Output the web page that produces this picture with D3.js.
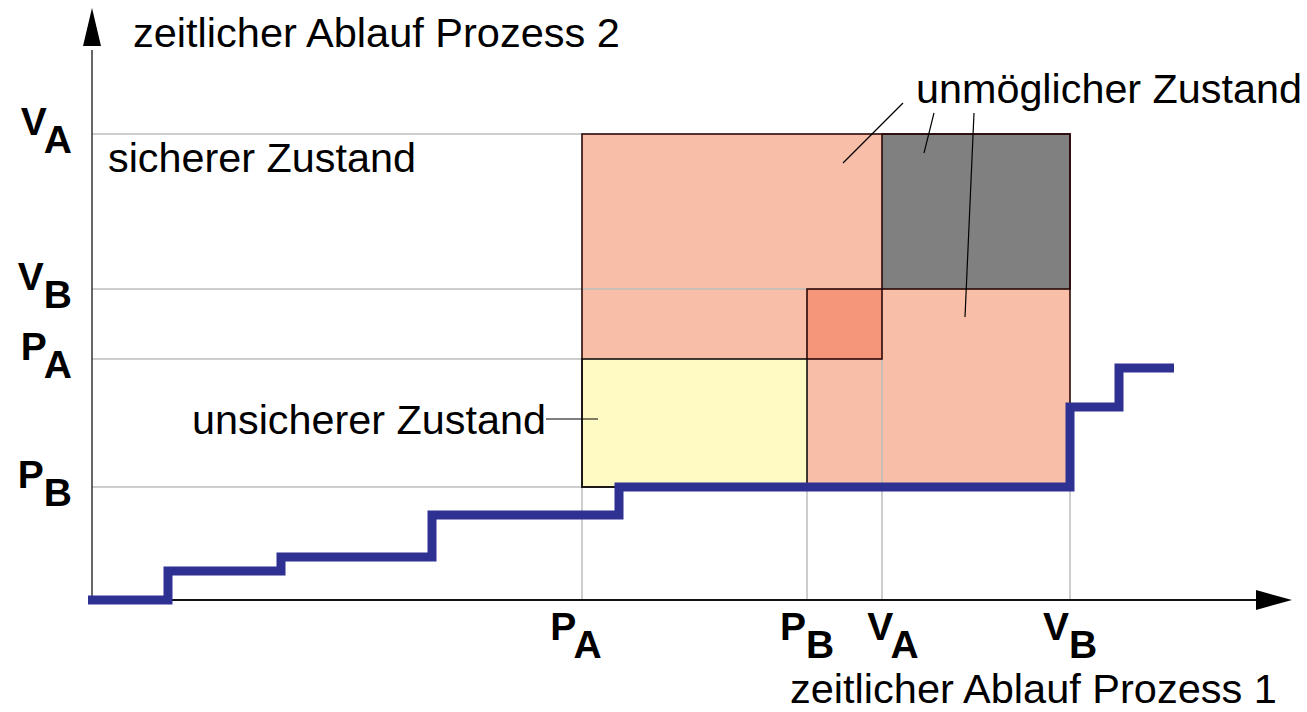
<!DOCTYPE html>
<html><head><meta charset="utf-8">
<script src="https://cdn.jsdelivr.net/npm/d3@7"></script>
<style>
body{margin:0;background:#fff}
svg{display:block}
text{font-family:"Liberation Sans",Arial,Helvetica,sans-serif;fill:#000}
</style></head>
<body><svg id="c" width="1307" height="712"></svg>
<script>
// ---------- data ----------
// Process 1 (horizontal) tick positions, in time units
const xTickMain = ["P", "P", "V", "V"];
const xTickSub  = ["A", "B", "A", "B"];
const xTickValues = [49.0, 71.5, 79.0, 97.8];   // P_A, P_B, V_A, V_B
// Process 2 (vertical) tick positions
const yTickMain = ["V", "V", "P", "P"];
const yTickSub  = ["A", "B", "A", "B"];
const yTickValues = [46.6, 31.1, 24.1, 11.3];   // V_A, V_B, P_A, P_B

// joint progress path (step function)
const pathX = [-0.4, 7.6, 18.9, 34.0, 52.7, 97.8, 102.7, 108.2];
const pathY = [0, 2.9, 4.3, 8.5, 11.3, 19.3, 23.2, 23.2];

// state regions, bounds given as tick indices (x: PA,PB,VA,VB ; y: VA,VB,PA,PB)
const regionNames = ["unmöglich", "unmöglich (grau)", "Überlappung", "unsicher"];
const regionX0 = [0, 2, 1, 0];
const regionX1 = [3, 3, 2, 1];
const regionY0 = [3, 1, 2, 3];
const regionY1 = [0, 0, 1, 2];

const axisLabels = ["zeitlicher Ablauf Prozess 1", "zeitlicher Ablauf Prozess 2"];
const stateLabels = ["sicherer Zustand", "unmöglicher Zustand", "unsicherer Zustand"];

// ---------- drawing ----------
const svg = d3.select("#c");
const x = d3.scaleLinear().domain([0, 120]).range([92, 1292]);
const y = d3.scaleLinear().domain([0, 59]).range([600, 10]);

const fills = ["#f9bea8", "#808080", "#f5967a", "#fff9c3"];
const strokes = ["#2a0808", "#2a0808", "#2a0808", "#111"];

const rx0 = i => x(xTickValues[regionX0[i]]), rx1 = i => x(xTickValues[regionX1[i]]);
const ry0 = i => y(yTickValues[regionY0[i]]), ry1 = i => y(yTickValues[regionY1[i]]);

// region fills
svg.append("g").selectAll("rect").data(regionNames).join("rect")
  .attr("x", (d, i) => rx0(i)).attr("y", (d, i) => ry1(i))
  .attr("width", (d, i) => rx1(i) - rx0(i)).attr("height", (d, i) => ry0(i) - ry1(i))
  .attr("fill", (d, i) => fills[i]);

// grid lines
const grid = svg.append("g").attr("stroke", "#bdbdbd").attr("stroke-width", 1.5);
const hEnd = [0, 1, 0, 0];
grid.selectAll("line.h").data(yTickValues).join("line").attr("class", "h")
  .attr("x1", x(0)).attr("x2", (d, i) => x(xTickValues[hEnd[i]]))
  .attr("y1", d => y(d)).attr("y2", d => y(d));
const vEnd = [3, 3, 2, 3];
grid.selectAll("line.v").data(xTickValues).join("line").attr("class", "v")
  .attr("x1", d => x(d)).attr("x2", d => x(d))
  .attr("y1", y(0)).attr("y2", (d, i) => y(yTickValues[vEnd[i]]));

// region outlines
svg.append("g").selectAll("rect").data(regionNames).join("rect")
  .attr("x", (d, i) => rx0(i)).attr("y", (d, i) => ry1(i))
  .attr("width", (d, i) => rx1(i) - rx0(i)).attr("height", (d, i) => ry0(i) - ry1(i))
  .attr("fill", "none").attr("stroke", (d, i) => strokes[i]).attr("stroke-width", 1.6);

// axes
const ax = svg.append("g");
ax.append("line").attr("x1", x(0)).attr("x2", x(0)).attr("y1", y(0)).attr("y2", y(55))
  .attr("stroke", "#333").attr("stroke-width", 1.5);
ax.append("path").attr("d", `M${x(0)},${y(59.2)} L${x(0) - 9},${y(55.4)} L${x(0) + 9},${y(55.4)} Z`).attr("fill", "#000");
ax.append("line").attr("x1", x(0)).attr("x2", x(116.5)).attr("y1", y(0)).attr("y2", y(0))
  .attr("stroke", "#111").attr("stroke-width", 2);
ax.append("path").attr("d", `M${x(120)},${y(0)} L${x(116.4)},${y(0) - 10} L${x(116.4)},${y(0) + 10} Z`).attr("fill", "#000");

// progress path
const line = d3.line().x(d => x(d[0])).y(d => y(d[1])).curve(d3.curveStepAfter);
svg.append("path").datum(pathX.map((v, i) => [v, pathY[i]]))
  .attr("d", line).attr("fill", "none").attr("stroke", "#2f3192")
  .attr("stroke-width", 9).attr("stroke-linejoin", "miter").attr("stroke-linecap", "butt");

// tick labels (small horizontal nudges keep P_B and V_A apart, as in the original)
const xNudge = [-6, 0, 11, 0];
const xl = svg.append("g").selectAll("text").data(xTickValues).join("text")
  .attr("x", (d, i) => x(d) + xNudge[i]).attr("y", 640).attr("text-anchor", "middle")
  .attr("font-weight", "bold").attr("font-size", 39);
xl.append("tspan").text((d, i) => xTickMain[i]);
xl.append("tspan").attr("dy", 18).text((d, i) => xTickSub[i]);

const yl = svg.append("g").selectAll("text").data(yTickValues).join("text")
  .attr("x", 72).attr("y", d => y(d) + 1).attr("text-anchor", "end")
  .attr("font-weight", "bold").attr("font-size", 39);
yl.append("tspan").text((d, i) => yTickMain[i]);
yl.append("tspan").attr("dy", 18).text((d, i) => yTickSub[i]);

// text labels, fitted to width
function label(txt, lx, ly, w) {
  const t = svg.append("text").attr("x", lx).attr("y", ly).attr("font-size", 38).text(txt);
  const len = t.node().getComputedTextLength();
  t.attr("font-size", 38 * w / len);
  return t;
}
label(axisLabels[1], 133, 47, 487);
label(axisLabels[0], 790, 703, 487);
label(stateLabels[0], 108, 172, 308);
label(stateLabels[1], 916, 103, 386);
label(stateLabels[2], 192, 434, 354);

// leader lines
const leaders = [[903, 103, 843, 163], [934, 113, 924, 153], [974, 113, 965, 317], [546, 419, 598, 419]];
svg.append("g").selectAll("line").data(leaders).join("line")
  .attr("x1", d => d[0]).attr("y1", d => d[1]).attr("x2", d => d[2]).attr("y2", d => d[3])
  .attr("stroke", "#000").attr("stroke-width", 1.2);
</script></body></html>
